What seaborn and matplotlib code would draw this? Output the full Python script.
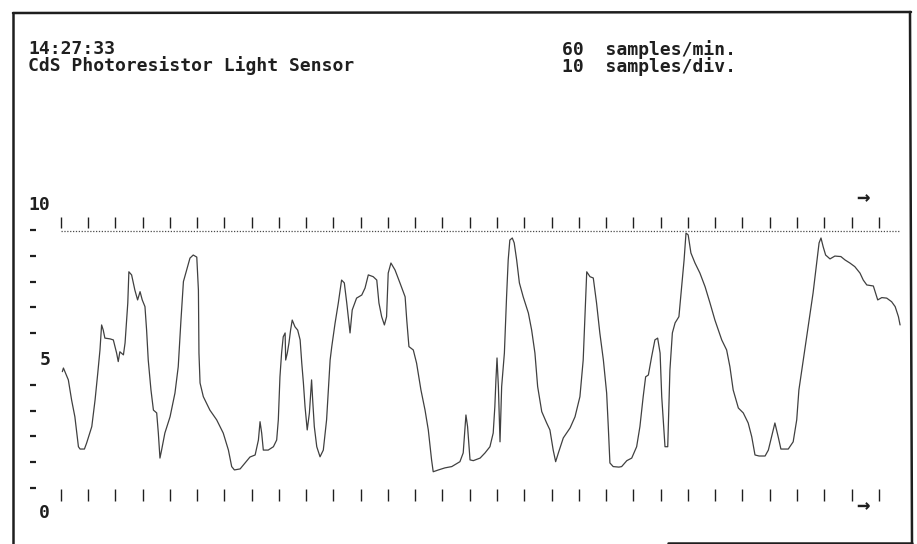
import matplotlib
matplotlib.use("Agg")
import matplotlib.pyplot as plt
import seaborn as sns
import pandas as pd
from matplotlib.lines import Line2D

# Chart recorder readout: CdS photoresistor light level, one sample per second
title_time = "14:27:33"
title_name = "CdS Photoresistor Light Sensor"
rate_lines = ["60  samples/min.", "10  samples/div."]

# sample number (s) and sensor reading (0..10 full scale) at each trace vertex
sample = [
    0.6, 1.0, 2.8, 4.0, 5.2, 6.5, 7.1, 8.7, 9.5, 11.4, 12.6, 13.6, 14.4, 15.0, 15.6,
    16.2, 18.1, 19.3, 20.5, 21.1, 21.7, 23.0, 23.6, 24.6, 25.0, 26.0, 27.2, 28.2,
    29.1, 29.9, 30.9, 31.5, 32.1, 33.1, 34.0, 35.2, 35.8, 36.4, 37.0, 38.2, 40.1,
    41.9, 43.1, 44.1, 45.0, 46.2, 47.4, 48.6, 49.9, 50.5, 50.7, 51.1, 52.3, 54.7,
    57.2, 59.6, 61.5, 62.7, 63.7, 65.8, 67.6, 69.4, 71.3, 72.5, 73.1, 73.7, 74.3,
    76.1, 78.0, 79.2, 79.8, 80.4, 81.0, 81.6, 82.3, 82.5, 83.1, 83.7, 84.3, 84.9,
    85.9, 86.9, 87.8, 88.4, 89.0, 89.6, 90.4, 91.2, 92.0, 92.4, 93.0, 93.9, 95.1,
    96.3, 97.5, 98.8, 99.4, 100.6, 101.8, 103.0, 104.0, 104.9, 106.1, 106.9, 108.5,
    110.4, 111.6, 112.8, 114.6, 115.9, 116.7, 117.7, 118.7, 119.5, 120.1, 121.1,
    122.6, 124.4, 126.3, 126.9, 127.7, 129.3, 130.5, 132.1, 133.6, 134.8, 136.0,
    136.6, 138.5, 140.9, 143.4, 146.4, 147.6, 148.6, 149.2, 150.1, 151.3, 153.8,
    155.6, 157.4, 158.6, 159.2, 159.6, 160.0, 160.5, 161.1, 161.7, 162.7, 163.5,
    164.1, 164.7, 165.6, 166.3, 167.2, 168.2, 169.6, 171.5, 172.7, 173.9, 174.9,
    176.4, 178.2, 179.4, 180.6, 181.5, 182.5, 184.3, 186.8, 188.6, 190.4, 191.6,
    192.3, 192.9, 194.1, 195.3, 196.5, 197.7, 199.0, 200.2, 200.8, 201.4, 202.6,
    204.7, 205.7, 207.6, 209.4, 211.2, 212.4, 213.6, 214.5, 215.5, 216.7, 217.9,
    218.9, 219.8, 220.4, 221.2, 221.6, 222.6, 223.4, 224.3, 225.3, 226.7, 227.7,
    228.6, 229.3, 230.1, 231.1, 232.6, 234.4, 236.3, 238.1, 239.9, 242.4, 244.2,
    245.4, 246.6, 248.5, 250.3, 252.1, 253.4, 254.6, 256.1, 258.3, 259.5, 260.7,
    261.9, 263.2, 264.1, 266.8, 268.6, 269.9, 270.7, 272.3, 274.1, 275.9, 277.2,
    278.1, 278.8, 279.6, 280.5, 282.1, 283.9, 286.1, 287.6, 289.4, 291.2, 293.1,
    294.3, 295.6, 298.0, 299.6, 301.1, 302.9, 304.7, 306.0, 307.2, 307.8,
]
reading = [
    4.51, 4.65, 4.19, 3.41, 2.76, 1.60, 1.51, 1.51, 1.74, 2.38, 3.41, 4.46, 5.35, 6.32, 6.12,
    5.81, 5.78, 5.74, 5.23, 4.90, 5.28, 5.16, 5.62, 7.17, 8.38, 8.26, 7.67, 7.29,
    7.61, 7.29, 7.03, 6.12, 4.96, 3.80, 3.02, 2.91, 2.13, 1.16, 1.47, 2.13, 2.76,
    3.68, 4.70, 6.51, 8.00, 8.45, 8.91, 9.03, 8.95, 7.67, 5.23, 4.07, 3.54, 3.02,
    2.64, 2.13, 1.47, 0.83, 0.70, 0.74, 0.97, 1.20, 1.28, 1.86, 2.57, 2.13, 1.47,
    1.47, 1.60, 1.86, 2.64, 4.31, 5.23, 5.86, 6.01, 4.96, 5.23, 5.62, 6.12, 6.51,
    6.25, 6.12, 5.74, 4.84, 4.07, 3.15, 2.25, 2.91, 4.19, 3.41, 2.38, 1.60, 1.21,
    1.47, 2.64, 4.96, 5.48, 6.38, 7.17, 8.06, 7.95, 7.17, 6.01, 6.90, 7.36,
    7.48, 7.75, 8.26, 8.19, 8.06, 7.17, 6.64, 6.32, 6.64, 8.33, 8.72,
    8.45, 7.95, 7.41, 6.51, 5.48, 5.35, 4.84, 3.80, 3.02, 2.25, 1.09,
    0.63, 0.70, 0.78, 0.83, 1.02, 1.36, 2.83, 2.38, 1.09, 1.06, 1.16,
    1.36, 1.60, 2.13, 3.15, 4.19, 5.04, 3.93, 1.79, 3.93, 5.23, 7.41,
    8.84, 9.61, 9.69, 9.50, 8.84, 7.95, 7.41, 6.78, 6.12, 5.23, 3.93,
    2.96, 2.52, 2.25, 1.47, 1.02, 1.36, 1.94, 2.33, 2.76, 3.54, 4.96,
    6.78, 8.38, 8.19, 8.14, 7.17, 6.01, 4.96, 3.68, 2.38, 0.97, 0.83,
    0.81, 0.83, 1.06, 1.16, 1.60, 2.38, 3.54, 4.31, 4.38, 5.09, 5.74,
    5.81, 5.23, 3.54, 2.25, 1.60, 1.60, 4.57, 6.01, 6.40, 6.64, 7.80,
    8.84, 9.88, 9.81, 9.11, 8.72, 8.33, 7.80, 7.17, 6.51, 5.74, 5.35,
    4.70, 3.80, 3.10, 2.91, 2.52, 1.99, 1.28, 1.24, 1.24, 1.47, 1.99,
    2.52, 1.94, 1.51, 1.51, 1.79, 2.64, 3.80, 4.96, 6.25, 7.56, 8.72,
    9.50, 9.69, 9.35, 9.03, 8.88, 8.99, 8.97, 8.84, 8.72, 8.58, 8.33,
    8.06, 7.87, 7.83, 7.29, 7.38, 7.36, 7.22, 7.03, 6.64, 6.32,
]

full_scale = 9.95
y_minor = [0, 1, 2, 3, 4, 6, 7, 8, 9, 10]
y_labels = {"10": 10.97, "5": 4.96, "0": -0.97}
div_ticks = list(range(0, 301, 10))

sns.set_theme(style="white")
mono = ["DejaVu Sans Mono", "DejaVu Sans"]
plt.rcParams["font.family"] = mono

W, H = 917, 544
fig = plt.figure(figsize=(W / 100, H / 100), dpi=100)
fig.patch.set_facecolor("white")
ax = fig.add_axes([0, 0, 1, 1])
ax.set_facecolor("white")

px_per_sample = 2.727
px_per_unit = 25.8
x0_px, y0_px = 60.7, 488.0
ax.set_xlim(-x0_px / px_per_sample, (W - x0_px) / px_per_sample)
ax.set_ylim((y0_px - H) / px_per_unit, y0_px / px_per_unit)

ink = "#1f1f1f"
trace_col = "#404040"

df = pd.DataFrame({"sample": sample, "reading": reading})
sns.lineplot(data=df, x="sample", y="reading", ax=ax, sort=False, estimator=None,
             color=trace_col, linewidth=0.9)

# full-scale dotted reference line
ax.hlines(full_scale, 0, sample[-1], colors="#4a4a4a", linewidth=0.9,
          linestyles=(0, (1, 1.3)))

# division ticks along top and bottom
ax.vlines(div_ticks, 10.08, 10.50, colors=ink, linewidth=1.0)
ax.vlines(div_ticks, -0.50, -0.04, colors=ink, linewidth=1.0)

# vertical scale dashes and labels
ax.hlines(y_minor, -11.2, -9.0, colors=ink, linewidth=1.6)
for lab, yv in y_labels.items():
    ax.text(-3.9, yv, lab, ha="right", va="center", fontsize=13, color=ink,
            family=mono, fontweight="bold")

# scroll arrows
for yv in (11.24, -0.70):
    ax.text(294.3, yv, "→", ha="center", va="center", fontsize=16,
            fontweight="bold", color=ink, family=mono)

# header text, two lines per block
def fx(px):
    return px / W

def fy(py):
    return 1 - py / H

header = dict(ha="left", va="top", fontsize=13, color=ink, family=mono,
              fontweight="bold", linespacing=0.87)
fig.text(fx(28), fy(40), title_time + "\n" + title_name, **header)
fig.text(fx(562), fy(40), "\n".join(rate_lines), **header)

# screen frame
frame = dict(color="#1e1e1e", linewidth=1.8, transform=fig.transFigure)
fig.add_artist(Line2D([fx(13), fx(13)], [fy(13), fy(544)], **frame))
fig.add_artist(Line2D([fx(13), fx(911)], [fy(13), fy(12)], **frame))
fig.add_artist(Line2D([fx(910), fx(912)], [fy(12), fy(543)], **frame))
fig.add_artist(Line2D([fx(668), fx(912)], [fy(542.5), fy(542.5)], **frame))

ax.set_axis_off()
fig.savefig("out.png", dpi=100, facecolor="white")
